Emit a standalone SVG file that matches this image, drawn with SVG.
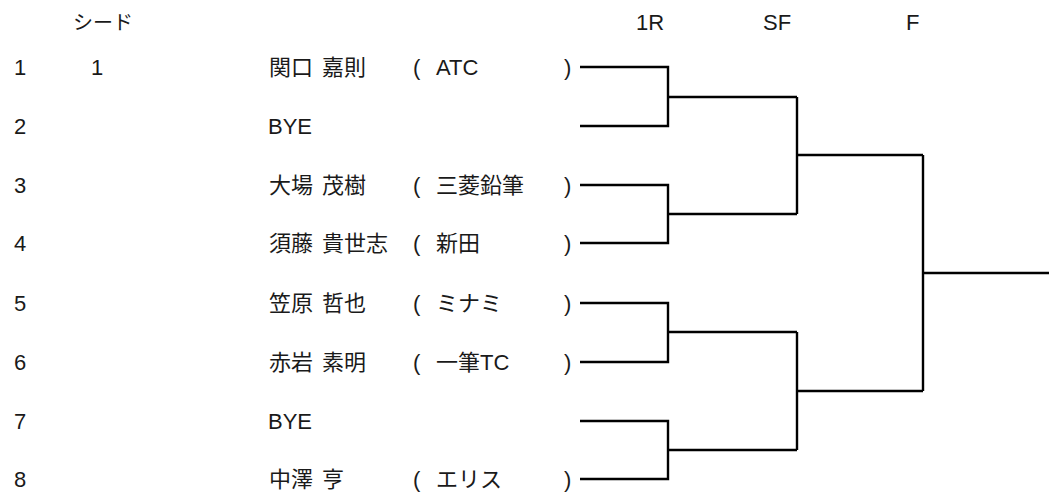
<svg xmlns="http://www.w3.org/2000/svg" width="1049" height="493" viewBox="0 0 1049 493">
<style>
text{font-family:"Liberation Sans","Noto Sans CJK JP",sans-serif;font-size:22px;fill:#1a1a1a}
.nm{word-spacing:3px}
.hd{font-size:20px}
.ln{fill:none;stroke:#000;stroke-width:2.4;stroke-linejoin:miter;stroke-linecap:butt}
</style>
<rect width="1049" height="493" fill="#fff"/>
<g id="header">
<text class="hd" x="73" y="30">シード</text>
<text x="636" y="30">1R</text>
<text x="763" y="30">SF</text>
<text x="906" y="30">F</text>
</g>
<g id="p1"><text x="14" y="75">1</text><text x="91" y="75">1</text><text class="nm" x="269" y="75">関口 嘉則</text><text x="413" y="75">(</text><text x="436" y="75">ATC</text><text x="564" y="75">)</text></g>
<g id="p2"><text x="14" y="134">2</text><text x="268" y="134">BYE</text></g>
<g id="p3"><text x="14" y="193">3</text><text class="nm" x="269" y="193">大場 茂樹</text><text x="413" y="193">(</text><text x="436" y="193">三菱鉛筆</text><text x="564" y="193">)</text></g>
<g id="p4"><text x="14" y="251">4</text><text class="nm" x="269" y="251">須藤 貴世志</text><text x="413" y="251">(</text><text x="436" y="251">新田</text><text x="564" y="251">)</text></g>
<g id="p5"><text x="14" y="311">5</text><text class="nm" x="269" y="311">笠原 哲也</text><text x="413" y="311">(</text><text x="436" y="311">ミナミ</text><text x="564" y="311">)</text></g>
<g id="p6"><text x="14" y="370">6</text><text class="nm" x="269" y="370">赤岩 素明</text><text x="413" y="370">(</text><text x="436" y="370">一筆TC</text><text x="564" y="370">)</text></g>
<g id="p7"><text x="14" y="429">7</text><text x="268" y="429">BYE</text></g>
<g id="p8"><text x="14" y="487">8</text><text class="nm" x="269" y="487">中澤 亨</text><text x="413" y="487">(</text><text x="436" y="487">エリス</text><text x="564" y="487">)</text></g>
<g id="connectors">
<path class="ln" d="M580,67 H668 V126 H580 M668,97 H797"/>
<path class="ln" d="M580,185 H668 V243 H580 M668,214 H797"/>
<path class="ln" d="M580,303 H668 V362 H580 M668,332 H797"/>
<path class="ln" d="M580,421 H668 V479 H580 M668,450 H797"/>
<path class="ln" d="M797,97 V214 M797,155 H923"/>
<path class="ln" d="M797,332 V450 M797,391 H923"/>
<path class="ln" d="M923,155 V391 M923,273 H1049"/>
</g>
</svg>
